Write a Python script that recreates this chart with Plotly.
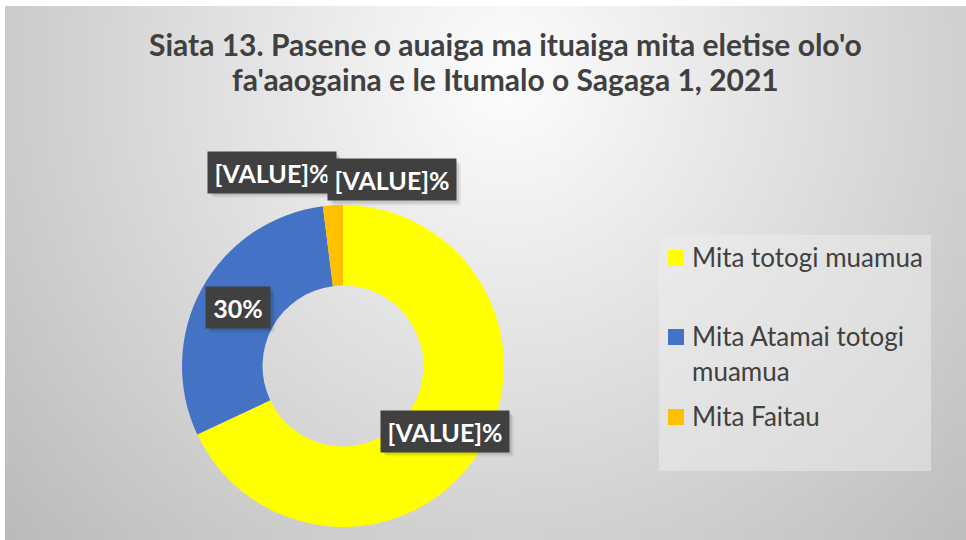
import base64, struct, zlib
import numpy as np
import plotly.graph_objects as go

# ---- data ----
categories = ["Mita totogi muamua", "Mita Atamai totogi muamua", "Mita Faitau"]
values = [68, 30, 2]
colors = ["#FFFF00", "#4472C4", "#FFC000"]
label_texts = ["[VALUE]%", "30%", "[VALUE]%", "[VALUE]%"]
title_lines = ["Siata 13. Pasene o auaiga ma ituaiga mita eletise olo'o",
               "fa'aaogaina e le Itumalo o Sagaga 1, 2021"]

W, H = 966, 540
FONT = "Lato"

# ---- radial gradient background (generated PNG) ----
def gradient_png(w=193, h=108):
    ys, xs = np.mgrid[0:h, 0:w]
    cx, cy = 0.52 * w, 0.13 * h
    d = np.sqrt(((xs - cx) / (0.52 * w)) ** 2 + ((ys - cy) / (0.96 * h)) ** 2)
    c = np.clip(254 - 50 * d, 185, 255).astype(np.uint8)
    raw = b"".join(b"\x00" + bytes(np.repeat(row, 3)) for row in c)
    def chunk(t, data):
        return struct.pack(">I", len(data)) + t + data + struct.pack(">I", zlib.crc32(t + data) & 0xffffffff)
    png = b"\x89PNG\r\n\x1a\n" + chunk(b"IHDR", struct.pack(">IIBBBBB", w, h, 8, 2, 0, 0, 0)) \
        + chunk(b"IDAT", zlib.compress(raw, 9)) + chunk(b"IEND", b"")
    return "data:image/png;base64," + base64.b64encode(png).decode()

def px(x):
    return x / W

def py(y):
    return 1 - y / H

fig = go.Figure()
fig.add_trace(go.Pie(
    labels=categories, values=values, hole=0.5, sort=False, direction="clockwise",
    rotation=0, marker=dict(colors=colors, line=dict(width=0)),
    textinfo="none", hoverinfo="label+percent", showlegend=False,
    domain=dict(x=[px(182), px(504)], y=[py(527), py(205)]),
))

annotations = []
shapes = []
# title
for ln, ty in zip(title_lines, [44, 79]):
    annotations.append(dict(
        text="<b>" + ln + "</b>", x=px(505), y=py(ty), xref="paper", yref="paper",
        showarrow=False, font=dict(family=FONT, size=30, color="#404040"),
        xanchor="center", yanchor="middle"))

# data labels (dark boxes with soft shadow); drawn in this order
label_pos = {2: (272, 172), 3: (392, 180), 0: (445, 431), 1: (238, 307)}
for idx, (lx, ly) in label_pos.items():
    t = label_texts[idx]
    bw = 128 if "VALUE" in t else 64
    bh = 41
    for off, a in [(5, 0.06), (3, 0.10)]:
        shapes.append(dict(type="rect", xref="paper", yref="paper",
                           x0=px(lx - bw / 2 + off), x1=px(lx + bw / 2 + off),
                           y0=py(ly + bh / 2 + off), y1=py(ly - bh / 2 + off),
                           fillcolor="rgba(0,0,0,%.2f)" % a, line=dict(width=0)))
for idx, (lx, ly) in label_pos.items():
    t = label_texts[idx]
    bw = 128 if "VALUE" in t else 64
    annotations.append(dict(text="<b>%s</b>" % t, x=px(lx), y=py(ly), xref="paper", yref="paper",
                            showarrow=False, xanchor="center", yanchor="middle",
                            font=dict(family=FONT, size=25, color="white"),
                            bgcolor="#404040", borderpad=0, width=bw, height=41))

# legend (custom, built from categories/colors)
shapes.insert(0, dict(type="rect", xref="paper", yref="paper", x0=px(659), x1=px(931), y0=py(471), y1=py(235),
                      fillcolor="rgba(238,238,238,0.5)", line=dict(width=0), layer="below"))
leg_y = [258, 337, 417]
for cat, col, yy in zip(categories, colors, leg_y):
    shapes.append(dict(type="rect", xref="paper", yref="paper", x0=px(668), x1=px(684),
                       y0=py(yy + 8), y1=py(yy - 8), fillcolor=col, line=dict(width=0)))
    words, lines, cur = cat.split(" "), [], ""
    for wd in words:
        if len(cur + " " + wd) > 19 and cur:
            lines.append(cur)
            cur = wd
        else:
            cur = (cur + " " + wd).strip()
    lines.append(cur)
    for i, ln in enumerate(lines):
        annotations.append(dict(text=ln, x=px(690), y=py(yy - 1 + 35 * i), xref="paper", yref="paper",
                                showarrow=False, xanchor="left", yanchor="middle",
                                font=dict(family=FONT, size=26, color="#404040")))

fig.update_layout(
    width=W, height=H, margin=dict(l=0, r=0, t=0, b=0),
    paper_bgcolor="white", plot_bgcolor="rgba(0,0,0,0)",
    annotations=annotations, shapes=shapes, showlegend=False,
    images=[dict(source=gradient_png(), xref="paper", yref="paper", x=px(5), y=py(6),
                 sizex=1 - px(5), sizey=1 - 6 / H, xanchor="left", yanchor="top",
                 sizing="stretch", layer="below")],
)

fig.write_html("out.html", config={"displayModeBar": False},
               post_script="document.body.style.margin='0';")
